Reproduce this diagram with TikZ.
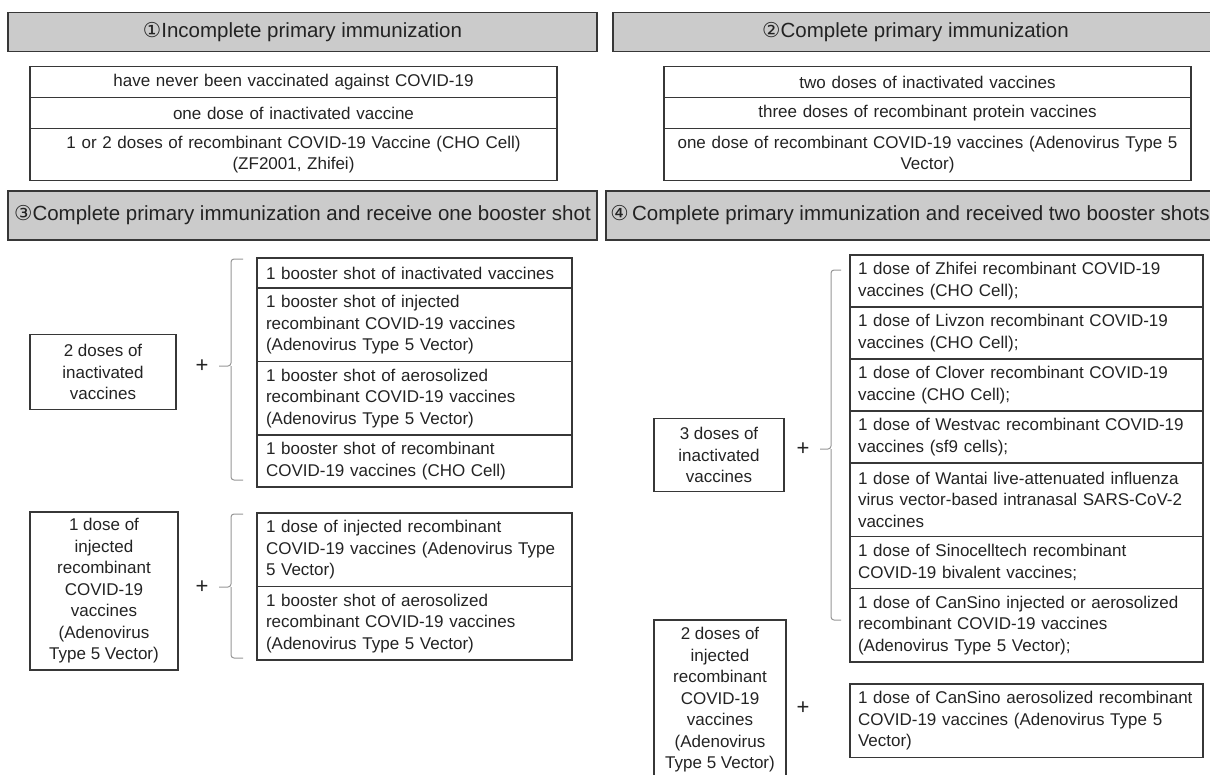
\documentclass[tikz,border=0pt]{standalone}
\usepackage{fontspec}
\setmainfont{Liberation Sans}
\newfontfamily\circfont{DejaVu Sans}
\usepackage{xcolor}
\usetikzlibrary{positioning}
\definecolor{headgray}{RGB}{203,203,203}
\definecolor{linegray}{RGB}{55,55,55}
\definecolor{bracegray}{RGB}{150,150,150}
\definecolor{textgray}{RGB}{35,35,35}
\newcommand{\bodyfont}{\fontsize{17}{21.5}\selectfont}
\newcommand{\headfont}{\fontsize{20.5}{24}\selectfont}

\begin{document}
\begin{tikzpicture}[
    x=1pt, y=-1pt,
    every node/.style={text=textgray, font=\bodyfont},
    head/.style={draw=linegray, fill=headgray, line width=1.5pt, inner sep=0pt, minimum height=#1, font=\headfont},
    rowl/.style={draw=linegray, line width=1.6pt, outer sep=0pt, align=left, inner xsep=9pt, inner ysep=0pt, text width=297pt, minimum height=#1},
    rowr/.style={rowl=#1, inner xsep=8pt, text width=337pt},
    rowc/.style={draw=linegray, line width=1.6pt, outer sep=0pt, align=center, inner xsep=10pt, inner ysep=0pt, text width=507pt, minimum height=#1},
    dosebox/.style={draw=linegray, line width=1.6pt, align=center, inner sep=0pt},
    plus/.style={inner sep=0pt, font=\fontsize{22}{22}\selectfont},
    bracket/.style={draw=bracegray, line width=1pt, rounded corners=3pt}
]
\useasboundingbox (0,0) rectangle (1210,774);

\node[head=39pt, minimum width=589pt] (incomplete) at (302.5,32) {{\circfont ①}Incomplete primary immunization};
\node[head=39pt, minimum width=605pt] (complete) at (915.5,32) {{\circfont ②}Complete primary immunization};

\node[rowc=31pt, anchor=north west] (never) at (30,66.5) {have never been vaccinated against COVID-19};
\node[rowc=31pt, below=0pt of never] (onedose) {one dose of inactivated vaccine};
\node[rowc=52pt, below=0pt of onedose] (zfdose) {1 or 2 doses of recombinant COVID-19 Vaccine (CHO Cell)\\(ZF2001, Zhifei)};

\node[rowc=31pt, anchor=north west] (twodoses) at (664,66.5) {two doses of inactivated vaccines};
\node[rowc=31pt, below=0pt of twodoses] (threedoses) {three doses of recombinant protein vaccines};
\node[rowc=52pt, below=0pt of threedoses] (adenodose) {one dose of recombinant COVID-19 vaccines (Adenovirus Type 5\\Vector)};

\node[head=49pt, minimum width=589pt] (oneboost) at (302.5,215.5) {{\circfont ③}Complete primary immunization and receive one booster shot};
\node[head=49pt, minimum width=608pt] (twoboost) at (910,215.5) {{\circfont ④}\,Complete primary immunization and received two booster shots};

\node[dosebox, minimum width=146pt, minimum height=75pt] (twoinact) at (103,372) {2 doses of\\inactivated\\vaccines};
\node[plus] (plusa) at (202,366) {+};
\node[rowl=30pt, anchor=north west] (boostinact) at (257,258) {1 booster shot of inactivated vaccines};
\node[rowl=73.5pt, below=0pt of boostinact] (boostinj) {1 booster shot of injected\\recombinant COVID-19 vaccines\\(Adenovirus Type 5 Vector)};
\node[rowl=73.5pt, below=0pt of boostinj] (boostaero) {1 booster shot of aerosolized\\recombinant COVID-19 vaccines\\(Adenovirus Type 5 Vector)};
\node[rowl=52pt, below=0pt of boostaero] (boostcho) {1 booster shot of recombinant\\COVID-19 vaccines (CHO Cell)};
\draw[bracket] (243,259) -- (231,259) -- (231,366) -- (219,366);
\draw[bracket] (231,366) -- (231,480) -- (243,480);

\node[dosebox, minimum width=148pt, minimum height=158pt] (oneinj) at (104,591) {1 dose of\\injected\\recombinant\\COVID-19\\vaccines\\(Adenovirus\\Type 5 Vector)};
\node[plus] (plusb) at (202,587) {+};
\node[rowl=73.5pt, anchor=north west] (doseinj) at (257,513) {1 dose of injected recombinant\\COVID-19 vaccines (Adenovirus Type\\5 Vector)};
\node[rowl=73.5pt, below=0pt of doseinj] (boostaerob) {1 booster shot of aerosolized\\recombinant COVID-19 vaccines\\(Adenovirus Type 5 Vector)};
\draw[bracket] (243,514) -- (231,514) -- (231,587) -- (219,587);
\draw[bracket] (231,587) -- (231,658) -- (243,658);

\node[dosebox, minimum width=130pt, minimum height=73pt] (threeinact) at (719,455) {3 doses of\\inactivated\\vaccines};
\node[plus] (plusc) at (803,449) {+};
\node[rowr=52pt, anchor=north west] (zhifei) at (850,255) {1 dose of Zhifei recombinant COVID-19\\vaccines (CHO Cell);};
\node[rowr=52pt, below=0pt of zhifei] (livzon) {1 dose of Livzon recombinant COVID-19\\vaccines (CHO Cell);};
\node[rowr=52pt, below=0pt of livzon] (clover) {1 dose of Clover recombinant COVID-19\\vaccine (CHO Cell);};
\node[rowr=52pt, below=0pt of clover] (westvac) {1 dose of Westvac recombinant COVID-19\\vaccines (sf9 cells);};
\node[rowr=73.5pt, below=0pt of westvac] (wantai) {1 dose of Wantai live-attenuated influenza\\virus vector-based intranasal SARS-CoV-2\\vaccines};
\node[rowr=52pt, below=0pt of wantai] (sinocell) {1 dose of Sinocelltech recombinant\\COVID-19 bivalent vaccines;};
\node[rowr=73.5pt, below=0pt of sinocell] (cansino) {1 dose of CanSino injected or aerosolized\\recombinant COVID-19 vaccines\\(Adenovirus Type 5 Vector);};
\draw[bracket] (841,270) -- (831,270) -- (831,449) -- (820,449);
\draw[bracket] (831,449) -- (831,620) -- (841,620);

\node[dosebox, minimum width=132pt, minimum height=160pt] (twoinj) at (720,700) {2 doses of\\injected\\recombinant\\COVID-19\\vaccines\\(Adenovirus\\Type 5 Vector)};
\node[plus] (plusd) at (803,708) {+};
\node[rowr=73.5pt, anchor=north west] (cansinoaero) at (850,684) {1 dose of CanSino aerosolized recombinant\\COVID-19 vaccines (Adenovirus Type 5\\Vector)};
\end{tikzpicture}
\end{document}
